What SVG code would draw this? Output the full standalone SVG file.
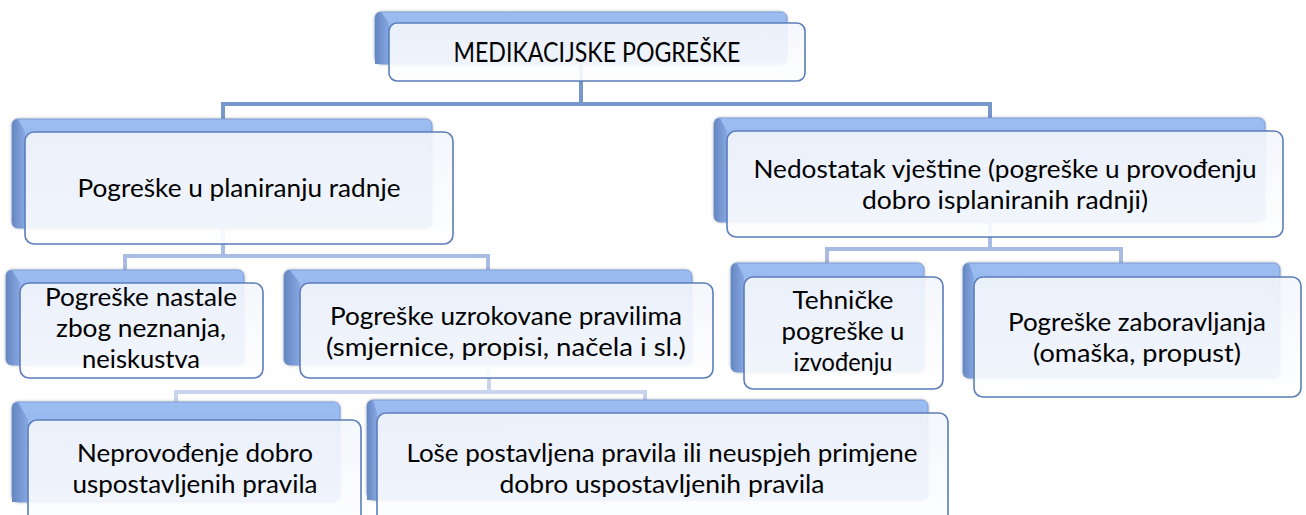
<svg xmlns="http://www.w3.org/2000/svg" width="1306" height="515" viewBox="0 0 1306 515">
<style>
.back{fill:url(#backGrad);stroke:#7C9CD4;stroke-width:1;filter:url(#glow)}
.bevel{fill:url(#bevelGrad)}
.front{fill:url(#frontGrad);fill-opacity:0.9;stroke:#5B7DBB;stroke-width:1.6}
.t{font-family:Lato,"Liberation Sans",sans-serif;font-size:25px;fill:#000;text-anchor:middle}
.c{fill:none;stroke-width:4;stroke-linejoin:miter}
.c0{stroke:#7698CC}
.c1{stroke:#A8BBE2}
.c2{stroke:#C9D5EE}
</style>
<defs>
<linearGradient id="backGrad" x1="0" y1="0" x2="0" y2="1">
<stop offset="0" stop-color="#9CBDF1"/>
<stop offset="1" stop-color="#88AAE4"/>
</linearGradient>
<linearGradient id="bevelGrad" x1="0" y1="0" x2="1" y2="0">
<stop offset="0" stop-color="#6686C0"/>
<stop offset="1" stop-color="#86A8E2"/>
</linearGradient>
<linearGradient id="frontGrad" x1="0" y1="0" x2="0" y2="1">
<stop offset="0" stop-color="#F3F6FC"/>
<stop offset="1" stop-color="#FEFEFF"/>
</linearGradient>
<filter id="glow" x="-5%" y="-10%" width="110%" height="130%">
<feDropShadow dx="0" dy="0" stdDeviation="1.5" flood-color="#000" flood-opacity="0.3"/>
</filter>
</defs>

<g id="connectors">
<path class="c c0" d="M581 64 V104 M223 119 V104 H990 V118"/>
<path class="c c1" d="M223 228 V256 M125 270 V256 H488 V270"/>
<path class="c c1" d="M990 222 V249 M827 263 V249 H1121 V263"/>
<path class="c c2" d="M489 365 V392 M176 402 V392 H645 V400"/>
</g>

<g id="n0">
<rect class="back" x="375" y="12" width="412" height="52" rx="6"/>
<path class="bevel" d="M375 18 Q375 12 381 12 L389 23 L389 64 L375 64 Z"/>
<rect class="front" x="389" y="23" width="416" height="58" rx="8"/>
<text class="t" x="597" y="62" style="font-size:26px" textLength="287" lengthAdjust="spacingAndGlyphs">MEDIKACIJSKE POGREŠKE</text>
</g>

<g id="n1">
<rect class="back" x="12" y="119" width="420" height="109" rx="6"/>
<path class="bevel" d="M12 125 Q12 119 18 119 L25 132 L25 228 L18 228 Q12 228 12 222 Z"/>
<rect class="front" x="25" y="132" width="428" height="112" rx="9"/>
<text class="t" x="239" y="197" textLength="323" lengthAdjust="spacingAndGlyphs">Pogreške u planiranju radnje</text>
</g>

<g id="n2">
<rect class="back" x="714" y="118" width="551" height="104" rx="6"/>
<path class="bevel" d="M714 124 Q714 118 720 118 L727 131 L727 222 L720 222 Q714 222 714 216 Z"/>
<rect class="front" x="727" y="131" width="556" height="106" rx="9"/>
<text class="t" x="1005" y="178" textLength="503" lengthAdjust="spacingAndGlyphs">Nedostatak vještine (pogreške u provođenju</text>
<text class="t" x="1005" y="209" textLength="286" lengthAdjust="spacingAndGlyphs">dobro isplaniranih radnji)</text>
</g>

<g id="n3">
<rect class="back" x="6" y="270" width="238" height="95" rx="6"/>
<path class="bevel" d="M6 276 Q6 270 12 270 L20 283 L20 365 L12 365 Q6 365 6 359 Z"/>
<rect class="front" x="20" y="283" width="243" height="95" rx="9"/>
<text class="t" x="141" y="306" textLength="192" lengthAdjust="spacingAndGlyphs">Pogreške nastale</text>
<text class="t" x="141" y="337" textLength="170" lengthAdjust="spacingAndGlyphs">zbog neznanja,</text>
<text class="t" x="141" y="368" textLength="118" lengthAdjust="spacingAndGlyphs">neiskustva</text>
</g>

<g id="n4">
<rect class="back" x="284" y="270" width="408" height="95" rx="6"/>
<path class="bevel" d="M284 276 Q284 270 290 270 L300 283 L300 365 L290 365 Q284 365 284 359 Z"/>
<rect class="front" x="300" y="283" width="413" height="95" rx="9"/>
<text class="t" x="506" y="325" textLength="352" lengthAdjust="spacingAndGlyphs">Pogreške uzrokovane pravilima</text>
<text class="t" x="506" y="356" textLength="360" lengthAdjust="spacingAndGlyphs">(smjernice, propisi, načela i sl.)</text>
</g>

<g id="n5">
<rect class="back" x="731" y="263" width="193" height="109" rx="6"/>
<path class="bevel" d="M731 269 Q731 263 737 263 L744 277 L744 372 L737 372 Q731 372 731 366 Z"/>
<rect class="front" x="744" y="277" width="199" height="112" rx="9"/>
<text class="t" x="843" y="309" textLength="101" lengthAdjust="spacingAndGlyphs">Tehničke</text>
<text class="t" x="843" y="340" textLength="123" lengthAdjust="spacingAndGlyphs">pogreške u</text>
<text class="t" x="843" y="371" textLength="99" lengthAdjust="spacingAndGlyphs">izvođenju</text>
</g>

<g id="n6">
<rect class="back" x="963" y="263" width="317" height="115" rx="6"/>
<path class="bevel" d="M963 269 Q963 263 969 263 L974 277 L974 378 L969 378 Q963 378 963 372 Z"/>
<rect class="front" x="974" y="277" width="327" height="120" rx="9"/>
<text class="t" x="1137" y="331" textLength="258" lengthAdjust="spacingAndGlyphs">Pogreške zaboravljanja</text>
<text class="t" x="1137" y="362" textLength="208" lengthAdjust="spacingAndGlyphs">(omaška, propust)</text>
</g>

<g id="n7">
<rect class="back" x="12" y="402" width="328" height="100" rx="6"/>
<path class="bevel" d="M12 408 Q12 402 18 402 L28 420 L28 502 L12 502 Z"/>
<rect class="front" x="28" y="420" width="333" height="110" rx="9"/>
<text class="t" x="195" y="462" textLength="236" lengthAdjust="spacingAndGlyphs">Neprovođenje dobro</text>
<text class="t" x="195" y="493" textLength="245" lengthAdjust="spacingAndGlyphs">uspostavljenih pravila</text>
</g>

<g id="n8">
<rect class="back" x="367" y="400" width="561" height="100" rx="6"/>
<path class="bevel" d="M367 406 Q367 400 373 400 L377 413 L377 500 L367 500 Z"/>
<rect class="front" x="377" y="413" width="571" height="117" rx="9"/>
<text class="t" x="662" y="462" textLength="511" lengthAdjust="spacingAndGlyphs">Loše postavljena pravila ili neuspjeh primjene</text>
<text class="t" x="662" y="493" textLength="325" lengthAdjust="spacingAndGlyphs">dobro uspostavljenih pravila</text>
</g>
</svg>
